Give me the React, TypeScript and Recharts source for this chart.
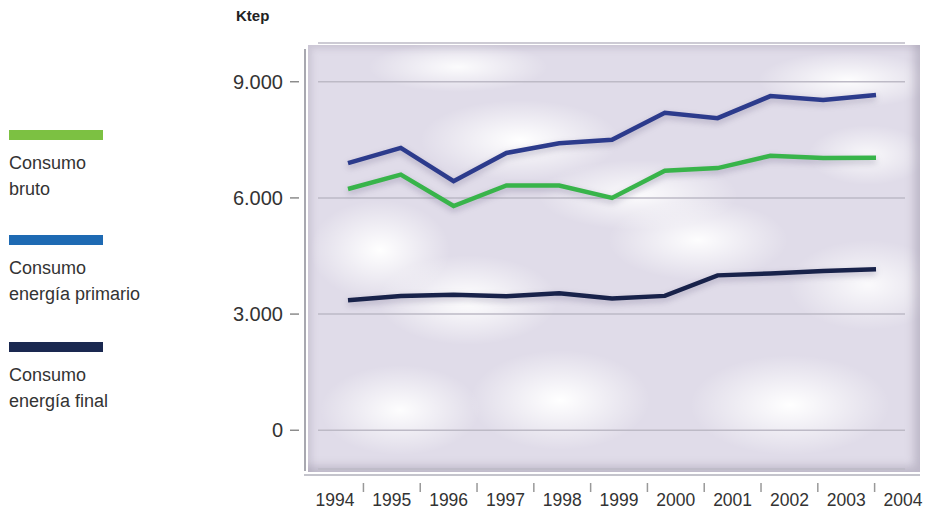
import React from 'react';
import { LineChart, Line, XAxis, YAxis, CartesianGrid, Legend } from 'recharts';

const years = [1994, 1995, 1996, 1997, 1998, 1999, 2000, 2001, 2002, 2003, 2004];
const consumoBruto = [6230, 6600, 5790, 6320, 6320, 6000, 6700, 6770, 7090, 7030, 7040];
const consumoPrimario = [6900, 7290, 6430, 7160, 7410, 7500, 8200, 8060, 8630, 8530, 8660];
const consumoFinal = [3360, 3470, 3500, 3460, 3540, 3400, 3470, 4000, 4050, 4110, 4160];
const yTicks = [0, 3000, 6000, 9000];
const unitLabel = 'Ktep';

const seriesKeys = ['bruto', 'primario', 'final'];
const legendLabels = [
  ['Consumo', 'bruto'],
  ['Consumo', 'energía primario'],
  ['Consumo', 'energía final'],
];
const lineColors = ['#38b44a', '#2c3b8c', '#18224a'];
const legendColors = ['#7cc142', '#1e6ab3', '#1a2850'];

const data = years.map((year, i) => ({
  year,
  bruto: consumoBruto[i],
  primario: consumoPrimario[i],
  final: consumoFinal[i],
}));

const labelTicks = years.flatMap((y, i) => (i < years.length - 1 ? [y, y + 0.5] : [y]));

const FONT = '"Liberation Sans", Arial, sans-serif';

const fmt = (n: number) =>
  n >= 1000 ? `${Math.floor(n / 1000)}.${String(n % 1000).padStart(3, '0')}` : String(n);

const YTick = (props: any) => {
  const { x, y, payload } = props;
  return (
    <g>
      <text x={x - 35} y={y} dy={7} textAnchor="end" fontSize={20} fill="#333" fontFamily={FONT}>
        {fmt(payload.value)}
      </text>
      <line x1={x - 28} x2={x - 19} y1={y} y2={y} stroke="#8c8c8c" strokeWidth={1.5} />
    </g>
  );
};

const XTick = (props: any) => {
  const { x, y, payload } = props;
  const v = payload.value;
  if (Number.isInteger(v)) {
    return (
      <text x={x} y={y + 37} textAnchor="middle" fontSize={17.5} fill="#333" fontFamily={FONT}>
        {v}
      </text>
    );
  }
  return <line x1={x} x2={x} y1={y + 14} y2={y + 23} stroke="#999" strokeWidth={1.5} />;
};

const legendTops = [130, 235, 342];

const LegendContent = () => (
  <div style={{ position: 'relative', width: 180, height: 513, fontFamily: FONT }}>
    {seriesKeys.map((k, i) => (
      <div key={k} style={{ position: 'absolute', left: 9, top: legendTops[i] }}>
        <div style={{ width: 94, height: 10, background: legendColors[i] }} />
        <div style={{ marginTop: 10, fontSize: 18, lineHeight: '26px', color: '#333', whiteSpace: 'nowrap' }}>
          {legendLabels[i].map((t) => (
            <div key={t}>{t}</div>
          ))}
        </div>
      </div>
    ))}
  </div>
);

const bg = [
  'radial-gradient(ellipse 100px 40px at 212px 95px, rgba(255,255,255,1), rgba(255,255,255,0) 100%)',
  'radial-gradient(ellipse 70px 50px at 72px 205px, rgba(255,255,255,1), rgba(255,255,255,0) 100%)',
  'radial-gradient(ellipse 90px 45px at 160px 255px, rgba(255,255,255,1), rgba(255,255,255,0) 100%)',
  'radial-gradient(ellipse 90px 40px at 390px 195px, rgba(255,255,255,0.95), rgba(255,255,255,0) 100%)',
  'radial-gradient(ellipse 80px 45px at 92px 365px, rgba(255,255,255,0.95), rgba(255,255,255,0) 100%)',
  'radial-gradient(ellipse 90px 50px at 252px 355px, rgba(255,255,255,1), rgba(255,255,255,0) 100%)',
  'radial-gradient(ellipse 100px 50px at 482px 360px, rgba(255,255,255,1), rgba(255,255,255,0) 100%)',
  'radial-gradient(ellipse 90px 28px at 540px 35px, rgba(255,255,255,0.95), rgba(255,255,255,0) 100%)',
  'radial-gradient(ellipse 90px 25px at 150px 22px, rgba(255,255,255,0.9), rgba(255,255,255,0) 100%)',
  'radial-gradient(ellipse 80px 45px at 560px 240px, rgba(255,255,255,0.85), rgba(255,255,255,0) 100%)',
  'radial-gradient(ellipse 100px 35px at 330px 150px, rgba(255,255,255,0.9), rgba(255,255,255,0) 100%)',
  'radial-gradient(ellipse 60px 30px at 560px 110px, rgba(255,255,255,0.8), rgba(255,255,255,0) 100%)',
  'linear-gradient(#e0dce9, #e0dce9)',
].join(', ');

export default function App() {
  return (
    <div style={{ position: 'absolute', left: 0, top: 0, width: 933, height: 513, background: '#fff', fontFamily: FONT }}>
      <div
        style={{
          position: 'absolute',
          left: 308,
          top: 45,
          width: 612,
          height: 427,
          background: bg,
          boxShadow: 'inset -6px -6px 8px rgba(150,145,165,0.45), inset 4px 4px 6px rgba(150,145,165,0.25)',
        }}
      />
      <div style={{ position: 'absolute', left: 304, top: 49, width: 1.5, height: 422, background: '#a8a8b0' }} />
      <div style={{ position: 'absolute', left: 304, top: 474, width: 616, height: 1.5, background: '#c4c4cc' }} />
      <div style={{ position: 'absolute', left: 0, top: 0 }}>
        <LineChart width={933} height={513} data={data} margin={{ top: 43, right: 28, bottom: 0, left: 38 }}>
          <CartesianGrid vertical={false} stroke="#bdbac6" strokeWidth={1.5} />
          <Legend
            layout="vertical"
            align="left"
            verticalAlign="top"
            width={180}
            wrapperStyle={{ left: 0, top: 0, width: 180 }}
            content={<LegendContent />}
          />
          <XAxis
            xAxisId="lab"
            dataKey="year"
            type="number"
            domain={[1993.7, 2004.035]}
            allowDataOverflow
            ticks={labelTicks}
            interval={0}
            height={44}
            axisLine={false}
            tickLine={false}
            tickSize={0}
            tickMargin={0}
            tick={<XTick />}
          />
          <XAxis
            xAxisId="data"
            dataKey="year"
            type="number"
            domain={[1993.432, 2004.549]}
            allowDataOverflow
            height={0}
            hide
          />
          <YAxis
            width={100}
            domain={[-1000, 10000]}
            ticks={yTicks}
            interval={0}
            allowDataOverflow
            axisLine={false}
            tickLine={false}
            tickSize={0}
            tickMargin={0}
            tick={<YTick />}
            label={{
              content: (p: any) => (
                <text
                  x={(p.viewBox?.x ?? 0) + (p.viewBox?.width ?? 0) - 82}
                  y={21}
                  fontSize={15}
                  fontWeight="bold"
                  fill="#222"
                  fontFamily={FONT}
                >
                  {unitLabel}
                </text>
              ),
            }}
          />
          <Line
            xAxisId="lab"
            dataKey="final"
            stroke="none"
            strokeWidth={0}
            dot={false}
            activeDot={false}
            legendType="none"
            isAnimationActive={false}
          />
          {seriesKeys.map((k, i) => (
            <Line
              key={k}
              xAxisId="data"
              dataKey={k}
              name={legendLabels[i].join(' ')}
              stroke={lineColors[i]}
              strokeWidth={4.5}
              dot={false}
              activeDot={false}
              isAnimationActive={false}
              style={{ filter: 'drop-shadow(0px 3px 3px rgba(90,80,120,0.35))' }}
            />
          ))}
        </LineChart>
      </div>
    </div>
  );
}
